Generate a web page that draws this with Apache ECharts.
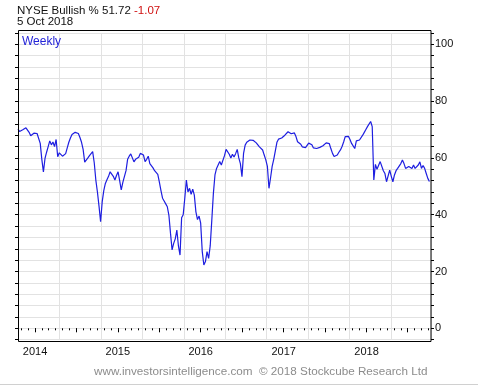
<!DOCTYPE html>
<html>
<head>
<meta charset="utf-8">
<script src="https://cdn.jsdelivr.net/npm/echarts@6/dist/echarts.min.js"></script>
<style>
html,body{margin:0;padding:0;background:#fff;}
#chart{width:478px;height:387px;}
</style>
</head>
<body>
<div id="chart"></div>
<script>
// Weekly NYSE Bullish % readings, first week ending 18 Oct 2013, last 5 Oct 2018
const firstWeek = Date.UTC(2013, 9, 18);
const bullish = [
  70.1, 69.3, 69.5, 69.9, 70.2, 70.6, 70.0, 69.0, 67.8, 67.5,
  68.7, 68.5, 68.6, 68.3, 65.1, 59.5, 55.1, 59.8, 62.0, 64.0,
  66.0, 64.6, 65.6, 64.0, 66.5, 60.4, 61.8, 61.2, 60.6, 60.4,
  61.5, 63.5, 65.5, 67.0, 68.2, 68.6, 69.0, 69.6, 68.6, 67.2,
  65.5, 63.0, 58.5, 59.0, 60.0, 60.8, 61.5, 62.2, 58.3, 52.2,
  48.0, 43.0, 37.5, 44.5, 48.5, 51.0, 52.3, 53.5, 55.1, 54.5,
  53.5, 52.2, 53.8, 55.1, 52.0, 48.7, 51.4, 52.0, 55.5, 59.5,
  60.6, 61.4, 60.0, 58.6, 59.5, 59.0, 60.2, 61.6, 62.2, 61.0,
  58.7, 59.5, 60.6, 58.0, 57.5, 56.5, 55.5, 55.1, 54.2, 51.5,
  48.5, 45.8, 44.8, 43.8, 42.8, 39.8, 33.5, 27.6, 29.9, 31.5,
  34.6, 29.0, 25.8, 38.9, 40.0, 45.8, 52.2, 48.0, 49.3, 47.2,
  49.0, 46.9, 41.0, 38.3, 39.5, 37.0, 27.0, 22.3, 23.5, 27.0,
  24.6, 29.0, 38.0, 47.5, 54.0, 56.3, 57.5, 58.7, 57.5, 57.8,
  60.8, 63.0, 63.5, 61.3, 60.0, 61.3, 60.3, 61.5, 63.0, 60.0,
  58.0, 53.4, 61.6, 64.5, 65.5, 66.0, 66.3, 66.5, 66.2, 66.0,
  65.3, 64.8, 63.9, 63.5, 62.8, 61.0, 59.3, 57.0, 49.3, 53.0,
  57.0, 59.5, 62.5, 65.5, 66.6, 66.9, 67.0, 67.5, 68.0, 68.3,
  69.2, 68.8, 68.5, 69.2, 68.8, 67.5, 65.7, 66.3, 64.8, 63.9,
  64.0, 63.6, 63.9, 65.2, 65.5, 64.6, 63.5, 63.3, 63.3, 63.5,
  63.7, 64.0, 64.3, 64.6, 65.3, 65.7, 65.0, 63.2, 61.6, 60.5,
  59.9, 61.0, 62.0, 62.8, 64.0, 65.6, 67.5, 68.1, 67.6, 66.5,
  65.1, 64.5, 63.3, 66.0, 65.7, 66.3, 67.0, 68.0, 69.0, 70.0,
  71.0, 71.4, 72.8, 71.0, 52.2, 57.7, 56.0, 55.7, 58.7, 58.5,
  55.5, 54.5, 51.6, 52.2, 55.7, 53.5, 51.6, 54.0, 55.5, 56.3,
  57.0, 58.0, 59.3, 58.0, 56.3, 56.6, 57.0, 57.5, 56.3, 57.5,
  56.3, 57.0, 57.5, 58.6, 56.3, 57.3, 56.3, 54.5, 52.79, 51.72
];
const weekDates = bullish.map((_, i) => firstWeek + i * 7 * 86400000);
const yearLabels = [2014, 2015, 2016, 2017, 2018];
const yTickLabels = [0, 20, 40, 60, 80, 100];
const titleText = 'NYSE Bullish % 51.72 ';
const changeText = '-1.07';
const dateText = '5 Oct 2018';
const periodText = 'Weekly';
const footerText = 'www.investorsintelligence.com  \u00A9 2018 Stockcube Research Ltd';

const xMin = Date.UTC(2013, 9, 18);
const xMax = Date.UTC(2018, 9, 12);
const MS_YEAR = 365.25 * 86400000;
const toYear = t => 1970 + t / MS_YEAR;
const yearTicks = yearLabels.map(y => Date.UTC(y, 0, 1));
const halfYearTicks = [];
yearLabels.forEach(y => { halfYearTicks.push(Date.UTC(y, 0, 1)); halfYearTicks.push(Date.UTC(y, 6, 1)); });
const monthTicks = [];
for (let y = 2013; y <= 2018; y++) {
  for (let m = 0; m < 12; m++) {
    const t = Date.UTC(y, m, 1);
    if (t > xMin && t < xMax) monthTicks.push(t);
  }
}

const FONT = '"Liberation Sans", Arial, sans-serif';
const chart = echarts.init(document.getElementById('chart'), null, {renderer: 'canvas'});
const gridCfg = {left: 18, right: 47, top: 32.94, bottom: 47.34, show: false};
const baseX = {
  type: 'value', min: xMin, max: xMax, position: 'bottom', offset: 2.34,
  axisLine: {show: false}, axisLabel: {show: false}, splitLine: {show: false},
  axisPointer: {show: false}
};
const baseY = {
  type: 'value', min: -4, max: 104, interval: 4,
  axisLine: {show: false}
};
chart.setOption({
  animation: false,
  backgroundColor: '#fff',
  grid: gridCfg,
  xAxis: [
    Object.assign({}, baseX, {
      axisTick: {show: true, length: 2, customValues: monthTicks, lineStyle: {color: '#000'}}
    }),
    Object.assign({}, baseX, {
      axisTick: {show: true, length: 4, customValues: halfYearTicks, lineStyle: {color: '#000'}},
      axisLabel: {
        show: true, customValues: yearTicks, margin: 4,
        fontFamily: FONT, fontSize: 11, color: '#111',
        formatter: v => String(new Date(v).getUTCFullYear())
      }
    }),
    {
      type: 'value', min: toYear(xMin), max: toYear(xMax), interval: 0.5,
      position: 'bottom', axisLine: {show: false}, axisTick: {show: false},
      axisLabel: {show: false}, axisPointer: {show: false},
      splitLine: {show: true, lineStyle: {color: '#e2e2e2', width: 1}}
    }
  ],
  yAxis: [
    Object.assign({}, baseY, {
      position: 'left',
      axisTick: {show: true, length: 3, lineStyle: {color: '#000'}},
      axisLabel: {show: false},
      splitLine: {show: true, lineStyle: {color: '#e2e2e2', width: 1}}
    }),
    Object.assign({}, baseY, {
      position: 'right',
      axisTick: {show: true, length: 3, lineStyle: {color: '#000'}},
      splitLine: {show: false},
      axisLabel: {
        show: true, margin: 4, fontFamily: FONT, fontSize: 11, color: '#111',
        formatter: v => (yTickLabels.indexOf(v) >= 0 ? String(v) : '')
      }
    })
  ],
  title: [
    {
      left: 17, top: 5, padding: 0,
      text: '{a|' + titleText + '}{b|' + changeText + '}',
      textStyle: {
        fontWeight: 'normal',
        rich: {
          a: {fontFamily: FONT, fontSize: 11.5, fontWeight: 'normal', color: '#111', lineHeight: 12},
          b: {fontFamily: FONT, fontSize: 11.5, fontWeight: 'normal', color: '#d01010', lineHeight: 12}
        }
      }
    },
    {
      left: 17, top: 16, padding: 0, text: dateText,
      textStyle: {fontFamily: FONT, fontSize: 11.5, fontWeight: 'normal', color: '#111', lineHeight: 12}
    },
    {
      left: 22, top: 36, padding: 0, text: periodText,
      textStyle: {fontFamily: FONT, fontSize: 12, fontWeight: 'normal', color: '#2424d8', lineHeight: 12}
    },
    {
      left: 94, top: 366, padding: 0, text: footerText,
      textStyle: {fontFamily: FONT, fontSize: 11.7, fontWeight: 'normal', color: '#8c8c8c', lineHeight: 12}
    }
  ],
  graphic: [
    {
      type: 'rect', z: 50, silent: true,
      shape: {x: 18.5, y: 30.5, width: 412.5, height: 311},
      style: {fill: 'none', stroke: '#000', lineWidth: 1}
    },
    {
      type: 'line', z: 50, silent: true,
      shape: {x1: 0, y1: 384.5, x2: 478, y2: 384.5},
      style: {stroke: '#d0d0d0', lineWidth: 1}
    }
  ],
  series: [{
    type: 'line',
    xAxisIndex: 0, yAxisIndex: 0,
    data: weekDates.map((d, i) => [d, bullish[i]]),
    showSymbol: false,
    symbol: 'none',
    lineStyle: {color: '#1e1ee0', width: 1.2},
    clip: true,
    z: 10
  }]
});
</script>
</body>
</html>
